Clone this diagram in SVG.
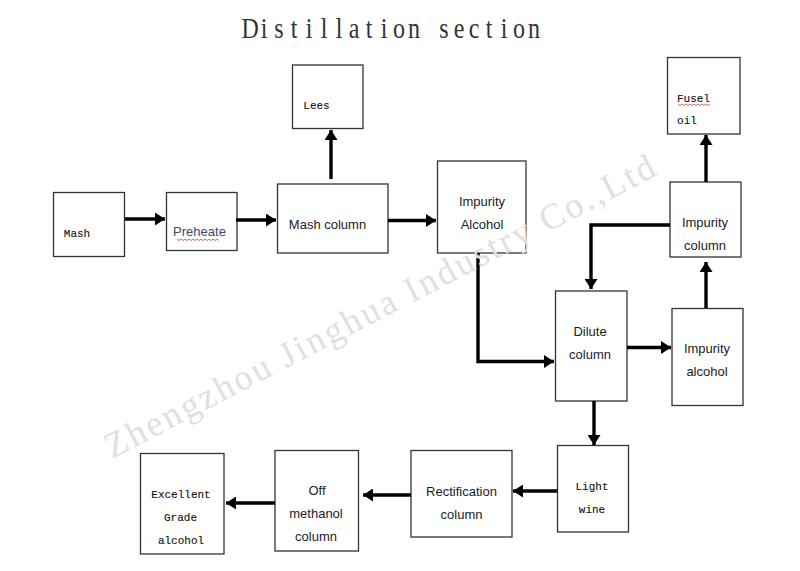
<svg xmlns="http://www.w3.org/2000/svg" width="800" height="571" viewBox="0 0 800 571">
<style>
.box{fill:#fff;stroke:#333;stroke-width:1.3}
.s{font-family:"Liberation Sans",Arial,sans-serif;font-size:13px;fill:#1a1a2a;text-anchor:middle}
.m{font-family:"Liberation Mono","Courier New",monospace;font-size:11px;fill:#111;stroke:#111;stroke-width:.12;text-anchor:middle}
.c{fill:none;stroke:#000;stroke-width:3.4;marker-end:url(#a)}
.w{fill:none;stroke:#e0393a;stroke-width:.8}
</style>
<defs>
<marker id="a" markerUnits="userSpaceOnUse" markerWidth="11" markerHeight="13" refX="10" refY="6.500" orient="auto"><path d="M0 0L10 6.500L0 13Z" fill="#000"/></marker>
</defs>
<rect width="800" height="571" fill="#fff"/>
<text transform="scale(.8 1)" y="38" x="301.900 325.800 342.900 363.300 382.100 400.800 419.600 435.800 457.100 475.800 491.250 510 528.750 549.200 567.100 585.800 607.100 625.800 641.250 660" style="font-family:'Liberation Serif',serif;font-size:30px;fill:#333">Distillation section</text>
<g id="nodes">
<g id="mash"><rect class="box" x="53.500" y="192.500" width="71" height="64"/><text class="m" x="77" y="237">Mash</text></g>
<g id="preheate"><rect class="box" x="166.500" y="192.500" width="70.500" height="58"/><text class="s" x="199.500" y="236" style="fill:#44486a">Preheate</text><path class="w" d="M177 239l2 1.500 2-1.500 2 1.500 2-1.500 2 1.500 2-1.500 2 1.500 2-1.500 2 1.500 2-1.500 2 1.500 2-1.500 2 1.500 2-1.500 2 1.500 2-1.500 2 1.500 2-1.500 2 1.500 2-1.500 2 1.500"/></g>
<g id="mash-column"><rect class="box" x="277.500" y="184" width="110.500" height="69"/><text class="s" x="327.500" y="228.500">Mash column</text></g>
<g id="lees"><rect class="box" x="292.500" y="65" width="70.500" height="63.500"/><text class="m" x="316.500" y="109">Lees</text></g>
<g id="impurity-alcohol-1"><rect class="box" x="437.500" y="161" width="88.500" height="92"/><text class="s" x="482" y="206">Impurity</text><text class="s" x="482" y="229">Alcohol</text></g>
<g id="dilute"><rect class="box" x="555.500" y="291" width="71.500" height="110"/><text class="s" x="590" y="336">Dilute</text><text class="s" x="590" y="359">column</text></g>
<g id="impurity-alcohol-2"><rect class="box" x="672" y="308.500" width="71" height="97"/><text class="s" x="707" y="353">Impurity</text><text class="s" x="707" y="376">alcohol</text></g>
<g id="impurity-column"><rect class="box" x="670" y="182" width="71" height="75"/><text class="s" x="705" y="227">Impurity</text><text class="s" x="705" y="250">column</text></g>
<g id="fusel-oil"><rect class="box" x="667.500" y="57.500" width="72.500" height="76.500"/><text class="m" x="693.500" y="101.500">Fusel</text><path class="w" d="M678 104l2 1.500 2-1.500 2 1.500 2-1.500 2 1.500 2-1.500 2 1.500 2-1.500 2 1.500 2-1.500 2 1.500 2-1.500 2 1.500 2-1.500 2 1.500 2-1.500"/><text class="m" x="687" y="124">oil</text></g>
<g id="light-wine"><rect class="box" x="557.500" y="445.500" width="71" height="86.500"/><text class="m" x="592" y="490">Light</text><text class="m" x="592" y="513">wine</text></g>
<g id="rectification"><rect class="box" x="411" y="450.500" width="101" height="86.500"/><text class="s" x="461.500" y="496">Rectification</text><text class="s" x="461.500" y="519">column</text></g>
<g id="off-methanol"><rect class="box" x="275" y="450.500" width="83.500" height="100.500"/><text class="s" x="317" y="495">Off</text><text class="s" x="316" y="518">methanol</text><text class="s" x="316" y="541">column</text></g>
<g id="excellent"><rect class="box" x="140.500" y="453.500" width="83.500" height="100.500"/><text class="m" x="181" y="498">Excellent</text><text class="m" x="180.500" y="521">Grade</text><text class="m" x="181" y="544">alcohol</text></g>
</g>
<g id="connectors">
<path class="c" d="M125 219H165"/>
<path class="c" d="M236 220H276"/>
<path class="c" d="M331 179V130"/>
<path class="c" d="M388 220.500H436"/>
<path class="c" d="M478 253V361.500H554"/>
<path class="c" d="M627 347.500H671"/>
<path class="c" d="M706 308V262"/>
<path class="c" d="M706 182V135"/>
<path class="c" d="M670 225H591V289"/>
<path class="c" d="M594 401V445"/>
<path class="c" d="M557 491H513"/>
<path class="c" d="M411 495H363"/>
<path class="c" d="M275 503H226"/>
</g>
<text transform="translate(112 459) rotate(-27.500)" textLength="616" style="font-family:'Liberation Serif',serif;font-size:36px;fill:#e0e0e0;letter-spacing:.5px">Zhengzhou Jinghua Industry Co.,Ltd</text>
</svg>
